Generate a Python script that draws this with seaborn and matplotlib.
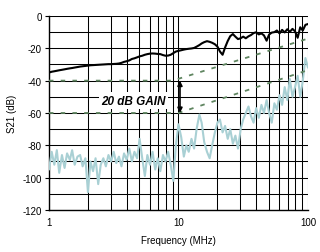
import numpy as np
import pandas as pd
import matplotlib
matplotlib.use("Agg")
import matplotlib.pyplot as plt
import seaborn as sns
from matplotlib.ticker import FixedLocator, NullFormatter, FixedFormatter

freq = [1.00, 1.05, 1.10, 1.15, 1.20, 1.26, 1.32, 1.38, 1.45, 1.51,
        1.58, 1.66, 1.74, 1.82, 1.91, 2.00, 2.09, 2.19, 2.29, 2.40,
        2.51, 2.63, 2.75, 2.88, 3.02, 3.16, 3.31, 3.47, 3.63, 3.80,
        3.98, 4.17, 4.37, 4.57, 4.79, 5.01, 5.25, 5.50, 5.75, 6.03,
        6.31, 6.61, 6.92, 7.24, 7.59, 7.94, 8.32, 8.71, 9.12, 9.55,
        10.0, 10.5, 11.0, 11.5, 12.0, 12.6, 13.2, 13.8, 14.5, 15.1,
        15.8, 16.6, 17.4, 18.2, 19.1, 20.0, 20.9, 21.9, 22.9, 24.0,
        25.1, 26.3, 27.5, 28.8, 30.2, 31.6, 33.1, 34.7, 36.3, 38.0,
        39.8, 41.7, 43.7, 45.7, 47.9, 50.1, 52.5, 55.0, 57.5, 60.3,
        63.1, 66.1, 69.2, 72.4, 75.9, 79.4, 83.2, 87.1, 91.2, 95.5, 100.0]

s21_gain = [-35.0, -34.5, -34.2, -33.9, -33.6, -33.3, -33.0, -32.7, -32.4, -32.2,
            -31.9, -31.6, -31.3, -31.1, -30.9, -30.7, -30.5, -30.4, -30.3, -30.2,
            -30.1, -30.0, -29.9, -29.8, -29.8, -29.7, -29.6, -29.4, -29.0, -28.4,
            -28.0, -27.5, -26.6, -26.2, -25.6, -25.0, -24.6, -24.0, -23.6, -23.3,
            -23.2, -23.3, -23.5, -23.6, -24.2, -24.6, -24.5, -24.0, -23.0, -22.0,
            -21.6, -21.2, -20.8, -20.5, -20.3, -20.1, -19.8, -19.0, -18.0, -17.0,
            -16.2, -15.6, -16.0, -16.6, -17.5, -19.0, -22.0, -24.0, -19.5, -15.5,
            -12.5, -11.2, -12.8, -14.3, -13.8, -12.8, -13.8, -12.6, -11.8, -10.6,
            -10.1, -11.4, -10.8, -12.0, -15.3, -11.5, -10.3, -10.0, -9.0, -10.8,
            -8.6, -10.2, -8.2, -9.8, -8.0, -9.5, -13.5, -7.0, -9.0, -5.5, -5.0]

s21_floor = [-95, -84, -92, -83, -97, -86, -94, -85, -89, -83,
             -92, -87, -86, -93, -88, -109, -90, -96, -88, -104,
             -92, -88, -93, -86, -90, -84, -91, -87, -93, -85,
             -89, -82, -90, -84, -88, -76, -88, -99, -86, -92,
             -84, -95, -88, -96, -86, -90, -84, -92, -102, -80,
             -67, -75, -87, -80, -84, -76, -82, -70, -61, -66,
             -78, -84, -88, -80, -72, -66, -64, -72, -68, -76,
             -70, -79, -74, -82, -70, -64, -60, -56, -62, -66,
             -57, -63, -55, -60, -52, -60, -66, -54, -58, -49,
             -55, -44, -52, -39, -50, -44, -37, -50, -40, -26, -32]

ref_freq = [1.0, 9.0, 100.0]
ref_upper = [-40, -40, -14]
ref_lower_freq = [1.0, 10.0, 100.0]
ref_lower = [-60, -60, -33.5]

y_ticks = [0, -20, -40, -60, -80, -100, -120]
x_tick_vals = [1, 10, 100]
x_tick_labels = ["1", "10", "100"]

sns.set_style("white")
plt.rcParams["font.family"] = ["Liberation Sans", "DejaVu Sans"]
plt.rcParams["axes.unicode_minus"] = False
plt.rcParams["text.color"] = "black"
plt.rcParams["axes.labelcolor"] = "black"
plt.rcParams["xtick.color"] = "black"
plt.rcParams["ytick.color"] = "black"

fig = plt.figure(figsize=(3.2, 2.53), dpi=100)
ax = fig.add_axes([0.153, 0.166, 0.8095, 0.767])

df_floor = pd.DataFrame({"f": freq, "v": s21_floor})
df_gain = pd.DataFrame({"f": freq, "v": s21_gain})
df_up = pd.DataFrame({"f": ref_freq, "v": ref_upper})
df_lo = pd.DataFrame({"f": ref_lower_freq, "v": ref_lower})

ax.set_xscale("log")
sns.lineplot(data=df_floor, x="f", y="v", ax=ax, color="#a9d0d4", lw=1.5, zorder=3)
sns.lineplot(data=df_up, x="f", y="v", ax=ax, color="#5f8560", lw=1.3, zorder=4)
ax.lines[-1].set_dashes([2.5, 4])
sns.lineplot(data=df_lo, x="f", y="v", ax=ax, color="#5f8560", lw=1.3, zorder=4)
ax.lines[-1].set_dashes([2.5, 4])
sns.lineplot(data=df_gain, x="f", y="v", ax=ax, color="black", lw=1.5, zorder=5)

ax.set_xlim(1, 100)
ax.set_ylim(-120, 0)

minor = [m * d for d in (1, 10) for m in range(2, 10)]
ax.xaxis.set_major_locator(FixedLocator(x_tick_vals))
ax.xaxis.set_major_formatter(FixedFormatter(x_tick_labels))
ax.xaxis.set_minor_locator(FixedLocator(minor))
ax.xaxis.set_minor_formatter(NullFormatter())
ax.set_yticks(y_ticks)
ax.set_yticks(list(range(-110, 0, 20)), minor=True)

ax.grid(True, which="both", axis="both", color="black", lw=0.75, zorder=1)
ax.set_axisbelow(True)
for s in ax.spines.values():
    s.set_visible(False)
for side in ("left", "bottom"):
    ax.spines[side].set_visible(True)
    ax.spines[side].set_color("black")
    ax.spines[side].set_linewidth(1.0)

ax.tick_params(axis="y", which="major", length=3, width=0.8, color="black",
               labelsize=7, pad=2, left=True)
ax.tick_params(axis="y", which="minor", length=0)
ax.tick_params(axis="x", which="both", length=0, labelsize=7, pad=5)

ax.set_xlabel("Frequency (MHz)", fontsize=7, labelpad=6)
ax.set_ylabel("S21 (dB)", fontsize=7, labelpad=4)

ax.annotate("", xy=(10.27, -40), xytext=(10.27, -60),
            arrowprops=dict(arrowstyle="<|-|>", color="black", lw=1.2,
                            mutation_scale=7, shrinkA=0, shrinkB=0), zorder=6)
ax.text(8.0, -52.5, "20 dB GAIN", fontsize=8.5, fontweight="bold", fontstyle="italic",
        ha="right", va="center", zorder=6,
        bbox=dict(boxstyle="square,pad=0.2", fc="white", ec="none"))

fig.savefig("out.png", dpi=100, facecolor="white")
